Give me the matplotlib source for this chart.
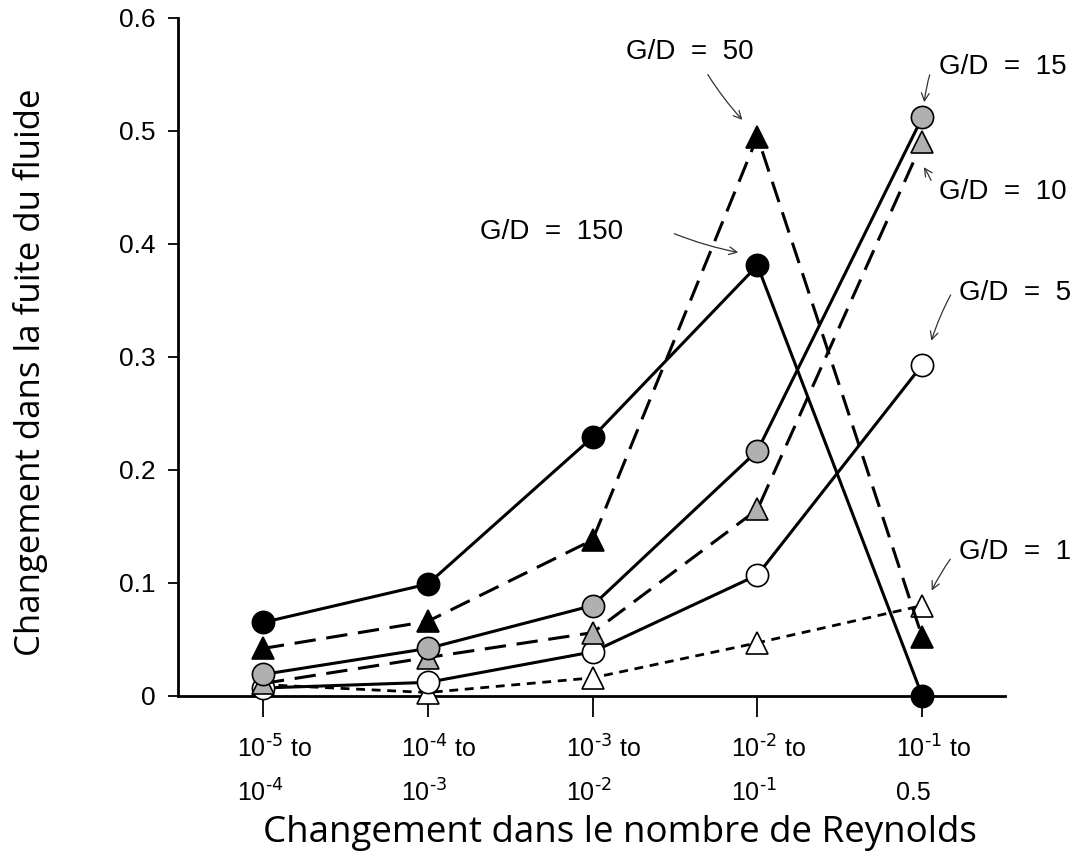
import matplotlib
matplotlib.use("Agg")
import matplotlib.pyplot as plt

# Intervalles du nombre de Reynolds (axe x)
intervals_top = [r"10$^{\text{-5}}$ to", r"10$^{\text{-4}}$ to", r"10$^{\text{-3}}$ to",
                 r"10$^{\text{-2}}$ to", r"10$^{\text{-1}}$ to"]
intervals_bottom = [r"10$^{\text{-4}}$", r"10$^{\text{-3}}$", r"10$^{\text{-2}}$",
                    r"10$^{\text{-1}}$", "0.5"]

# Changement dans la fuite du fluide pour chaque rapport G/D
gd_1 = [0.010, 0.003, 0.016, 0.047, 0.080]
gd_5 = [0.007, 0.012, 0.039, 0.107, 0.293]
gd_10 = [0.011, 0.034, 0.056, 0.165, 0.490]
gd_15 = [0.019, 0.042, 0.080, 0.217, 0.512]
gd_50 = [0.042, 0.066, 0.138, 0.495, 0.052]
gd_150 = [0.065, 0.099, 0.229, 0.381, 0.000]

plt.rcParams["font.family"] = ["Liberation Sans", "DejaVu Sans"]
plt.rcParams["mathtext.default"] = "regular"

GRAY = "#b0b0b0"
LW = 2.2
MS = 16

fig = plt.figure(figsize=(10.75, 8.56), dpi=100)
ax = fig.add_axes([0.1656, 0.187, 0.769, 0.792])
x = list(range(len(intervals_top)))

series = [
    (gd_1, "^", "white", (3.2, 2.4), 2.0),
    (gd_5, "o", "white", None, LW),
    (gd_10, "^", GRAY, (7, 3.5), LW),
    (gd_15, "o", GRAY, None, LW),
    (gd_50, "^", "black", (7, 3.5), LW),
    (gd_150, "o", "black", None, LW),
]
for i, (vals, mk, fc, dash, lw) in enumerate(series):
    line, = ax.plot(x, vals, color="black", lw=lw, marker=mk, ms=MS,
                    mfc=fc, mec="black", mew=1.2, zorder=3 + i,
                    clip_on=False)
    if dash:
        line.set_dashes(dash)

ax.set_xlim(-0.515, 4.5)
ax.set_ylim(0, 0.6)
for s in ["top", "right"]:
    ax.spines[s].set_visible(False)
for s in ["left", "bottom"]:
    ax.spines[s].set_linewidth(2.0)

ax.set_yticks([0, 0.1, 0.2, 0.3, 0.4, 0.5, 0.6])
ax.set_yticklabels(["0", "0.1", "0.2", "0.3", "0.4", "0.5", "0.6"], fontsize=19)
ax.tick_params(axis="y", direction="out", length=7, width=1.3, pad=9)
ax.set_xticks(x)
ax.set_xticklabels([])
ax.tick_params(axis="x", direction="out", length=15, width=1.3)

# Étiquettes des intervalles sur deux lignes
for xi, top, bot in zip(x, intervals_top, intervals_bottom):
    ax.text(xi - 0.16, -0.047, top, fontsize=18, ha="left", va="center",
            clip_on=False)
    ax.text(xi - 0.16, -0.086, bot, fontsize=18, ha="left", va="center",
            clip_on=False)

fig.text(620 / 1075, 1 - 833 / 856, "Changement dans le nombre de Reynolds",
         fontsize=26.5, family=["Open Sans", "DejaVu Sans"],
         ha="center", va="center")
fig.text(31 / 1075, 1 - 372 / 856, "Changement dans la fuite du fluide",
         fontsize=25, family=["Open Sans", "DejaVu Sans"],
         ha="center", va="center", rotation=90)

# Annotations G/D
labels = [
    ("G/D  =  150", 1.75, 0.411, "center", (2.48, 0.410), (2.90, 0.392)),
    ("G/D  =  50", 2.59, 0.570, "center", (2.69, 0.552), (2.92, 0.508)),
    ("G/D  =  15", 4.10, 0.557, "left", (4.05, 0.552), (4.01, 0.523)),
    ("G/D  =  10", 4.10, 0.446, "left", (4.06, 0.454), (4.00, 0.470)),
    ("G/D  =  5", 4.22, 0.357, "left", (4.18, 0.357), (4.05, 0.312)),
    ("G/D  =  1", 4.22, 0.127, "left", (4.18, 0.123), (4.05, 0.091)),
]
for txt, tx, ty, ha, start, end in labels:
    ax.text(tx, ty, txt, fontsize=20, ha=ha, va="center", clip_on=False)
    ax.annotate("", xy=end, xytext=start,
                arrowprops=dict(arrowstyle="->", lw=0.9, color="#333333",
                                connectionstyle="arc3,rad=0.05",
                                mutation_scale=14),
                annotation_clip=False)

fig.savefig("out.png", dpi=100)
